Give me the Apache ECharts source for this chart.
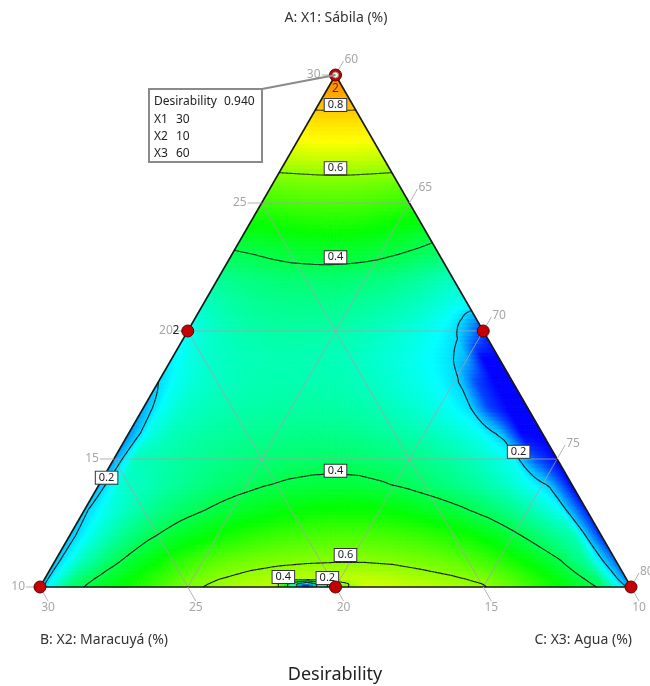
<!DOCTYPE html>
<html>
<head>
<meta charset="utf-8">
<script src="https://cdn.jsdelivr.net/npm/echarts@6/dist/echarts.min.js"></script>
<style>
  html, body { margin: 0; padding: 0; background: #fff; }
  #main { width: 650px; height: 686px; }
</style>
</head>
<body>
<div id="main"></div>
<script>
// Mixture space (%): X1 Sábila 10–30, X2 Maracuyá 10–30, X3 Agua 60–80, X1+X2+X3 = 100
const x1Ticks = [10, 15, 20, 25, 30];
const x2Ticks = [30, 25, 20, 15, 10];
const x3Ticks = [60, 65, 70, 75, 80];

// Design points and their replicate counts
const designX1 = [30, 20, 20, 10, 10, 10];
const designX2 = [10, 20, 10, 20, 30, 10];
const designX3 = [60, 60, 70, 70, 60, 80];
const designReps = [2, 2, 1, 1, 1, 1];

// Desirability surface: one row per X1 level, 21 evenly spaced samples across the row,
// from the X2-rich (left) edge to the X3-rich (right) edge
const surfaceX1 = [10, 10.12, 10.3, 11, 12, 13, 14, 15, 16, 17, 18, 19, 20, 21, 22, 23, 24, 25, 26, 27, 28, 29, 30];
const surfaceRows = [
  [0.18, 0.37, 0.432, 0.482, 0.533, 0.584, 0.615, 0.635, 0.64, 0.0, 0.55, 0.665, 0.655, 0.64, 0.625, 0.605, 0.562, 0.506, 0.45, 0.39, 0.17],
  [0.18, 0.365, 0.428, 0.478, 0.529, 0.58, 0.61, 0.63, 0.635, 0.0, 0.55, 0.66, 0.65, 0.635, 0.62, 0.6, 0.557, 0.503, 0.447, 0.382, 0.15],
  [0.18, 0.355, 0.42, 0.47, 0.52, 0.57, 0.6, 0.62, 0.635, 0.645, 0.65, 0.65, 0.64, 0.625, 0.61, 0.59, 0.548, 0.495, 0.44, 0.37, 0.13],
  [0.18, 0.30, 0.38, 0.44, 0.49, 0.53, 0.56, 0.578, 0.588, 0.594, 0.597, 0.597, 0.592, 0.58, 0.565, 0.54, 0.505, 0.46, 0.405, 0.32, 0.1],
  [0.18, 0.27, 0.34, 0.39, 0.43, 0.46, 0.49, 0.51, 0.525, 0.534, 0.538, 0.538, 0.533, 0.522, 0.505, 0.48, 0.445, 0.40, 0.35, 0.31, 0.04],
  [0.19, 0.26, 0.31, 0.35, 0.38, 0.405, 0.43, 0.448, 0.462, 0.472, 0.477, 0.477, 0.47, 0.455, 0.435, 0.41, 0.38, 0.345, 0.30, 0.24, 0.03],
  [0.17, 0.28, 0.30, 0.325, 0.345, 0.365, 0.38, 0.397, 0.408, 0.415, 0.418, 0.415, 0.405, 0.39, 0.37, 0.35, 0.325, 0.295, 0.255, 0.195, 0.0],
  [0.14, 0.30, 0.31, 0.325, 0.337, 0.347, 0.357, 0.365, 0.371, 0.375, 0.376, 0.373, 0.366, 0.355, 0.342, 0.325, 0.303, 0.275, 0.245, 0.08, 0.0],
  [0.13, 0.255, 0.295, 0.31, 0.322, 0.33, 0.336, 0.341, 0.344, 0.345, 0.344, 0.34, 0.332, 0.321, 0.308, 0.292, 0.271, 0.245, 0.184, 0.0, 0.0],
  [0.16, 0.245, 0.282, 0.296, 0.306, 0.313, 0.317, 0.32, 0.321, 0.321, 0.319, 0.314, 0.306, 0.294, 0.279, 0.262, 0.241, 0.205, 0.06, 0.0, 0.0],
  [0.2, 0.245, 0.272, 0.286, 0.296, 0.303, 0.307, 0.309, 0.309, 0.308, 0.305, 0.299, 0.29, 0.278, 0.264, 0.248, 0.229, 0.198, 0.06, 0.0, 0.0],
  [0.225, 0.258, 0.278, 0.289, 0.297, 0.302, 0.305, 0.306, 0.305, 0.303, 0.299, 0.293, 0.285, 0.274, 0.262, 0.248, 0.232, 0.211, 0.17, 0.0, 0.0],
  [0.245, 0.272, 0.29, 0.302, 0.311, 0.316, 0.319, 0.32, 0.319, 0.317, 0.313, 0.307, 0.299, 0.29, 0.279, 0.267, 0.253, 0.237, 0.214, 0.15, 0.04],
  [0.285, 0.302, 0.315, 0.324, 0.331, 0.336, 0.339, 0.341, 0.341, 0.34, 0.338, 0.334, 0.328, 0.321, 0.313, 0.304, 0.293, 0.28, 0.266, 0.252, 0.24],
  [0.33, 0.34, 0.347, 0.353, 0.358, 0.362, 0.365, 0.366, 0.367, 0.367, 0.366, 0.364, 0.361, 0.357, 0.352, 0.345, 0.336, 0.326, 0.315, 0.302, 0.29],
  [0.39, 0.395, 0.4, 0.405, 0.41, 0.414, 0.418, 0.42, 0.422, 0.423, 0.423, 0.422, 0.42, 0.417, 0.413, 0.407, 0.401, 0.394, 0.387, 0.379, 0.37],
  [0.456, 0.46, 0.464, 0.468, 0.471, 0.474, 0.477, 0.479, 0.48, 0.481, 0.481, 0.48, 0.479, 0.476, 0.472, 0.467, 0.462, 0.456, 0.45, 0.444, 0.437],
  [0.521, 0.523, 0.526, 0.528, 0.53, 0.532, 0.534, 0.535, 0.536, 0.537, 0.537, 0.537, 0.536, 0.534, 0.532, 0.529, 0.526, 0.523, 0.519, 0.515, 0.511],
  [0.585, 0.586, 0.587, 0.588, 0.589, 0.59, 0.591, 0.592, 0.593, 0.594, 0.594, 0.594, 0.593, 0.592, 0.591, 0.59, 0.589, 0.588, 0.587, 0.586, 0.585],
  [0.665, 0.667, 0.669, 0.67, 0.672, 0.673, 0.674, 0.674, 0.675, 0.675, 0.675, 0.675, 0.675, 0.674, 0.674, 0.673, 0.672, 0.67, 0.669, 0.667, 0.665],
  [0.74, 0.741, 0.742, 0.743, 0.743, 0.744, 0.744, 0.745, 0.745, 0.745, 0.745, 0.745, 0.745, 0.745, 0.744, 0.744, 0.743, 0.743, 0.742, 0.741, 0.74],
  [0.835, 0.835, 0.835, 0.835, 0.835, 0.835, 0.835, 0.835, 0.835, 0.835, 0.835, 0.835, 0.835, 0.835, 0.835, 0.835, 0.835, 0.835, 0.835, 0.835, 0.835],
  [0.94, 0.94, 0.94, 0.94, 0.94, 0.94, 0.94, 0.94, 0.94, 0.94, 0.94, 0.94, 0.94, 0.94, 0.94, 0.94, 0.94, 0.94, 0.94, 0.94, 0.94]
];
const contourLevels = [0.2, 0.4, 0.6, 0.8];

// ---------- layout / style ----------
const FONT = '"Noto Sans", "DejaVu Sans", sans-serif';
const colorStops = [0, 0.235, 0.47, 0.705, 1.18];
const colorRGB = [[0, 0, 255], [0, 255, 255], [0, 255, 0], [255, 255, 0], [255, 0, 0]];
// where each contour label box sits: [level, X1, position across the row]
const contourLabelSpots = [
  [0.8, 28.83, 0.5], [0.6, 26.36, 0.5], [0.4, 22.88, 0.5],
  [0.4, 14.54, 0.5], [0.6, 11.25, 0.518],
  [0.2, 15.28, 0.921], [0.2, 14.27, 0.0075],
  [0.4, 10.39, 0.41], [0.2, 10.35, 0.486]
];

// ternary -> plane: x in [0,1] along the base, y = share of the X1 range
function cart(X1, X2, X3) {
  const a = (X1 - 10) / 20, c = (X3 - 60) / 20;
  return [c + a / 2, a];
}
function cartRow(X1, u) {
  const a = (X1 - 10) / 20;
  return [a / 2 + u * (1 - a), a];
}
function colorOf(v) {
  if (v <= colorStops[0]) return 'rgb(' + colorRGB[0].join(',') + ')';
  for (let i = 1; i < colorStops.length; i++) {
    if (v <= colorStops[i]) {
      const t = (v - colorStops[i - 1]) / (colorStops[i] - colorStops[i - 1]);
      const a = colorRGB[i - 1], b = colorRGB[i];
      return 'rgb(' + [0, 1, 2].map(k => Math.round(a[k] + (b[k] - a[k]) * t)).join(',') + ')';
    }
  }
  return 'rgb(255,0,0)';
}
function lerp(a, b, t) { return a + (b - a) * t; }
function rowValue(row, u) {
  const t = u * (row.length - 1);
  let j = Math.floor(t);
  if (j >= row.length - 1) j = row.length - 2;
  const f = t - j;
  return row[j] * (1 - f) + row[j + 1] * f;
}

// fine rendering mesh built from the sampled rows
const NU = 160;
const fineX1 = [], fineV = [];
for (let i = 0; i < surfaceX1.length - 1; i++) {
  const x0 = surfaceX1[i], x1 = surfaceX1[i + 1];
  const ns = Math.max(1, Math.round((x1 - x0) * 6));
  for (let k = 0; k < ns; k++) {
    const t = k / ns;
    fineX1.push(lerp(x0, x1, t));
    const v = [];
    for (let m = 0; m <= NU; m++) {
      const u = m / NU;
      v.push(lerp(rowValue(surfaceRows[i], u), rowValue(surfaceRows[i + 1], u), t));
    }
    fineV.push(v);
  }
}
{
  const last = surfaceRows.length - 1;
  fineX1.push(surfaceX1[last]);
  const v = [];
  for (let m = 0; m <= NU; m++) v.push(rowValue(surfaceRows[last], m / NU));
  fineV.push(v);
}
function meshPoint(r, m) {
  const r0 = Math.min(Math.floor(r), fineX1.length - 2);
  const X1 = lerp(fineX1[r0], fineX1[r0 + 1], r - r0);
  return cartRow(X1, m / NU);
}

const cells = [];
for (let r = 0; r < fineV.length - 1; r++) {
  for (let m = 0; m < NU; m++) {
    const v = (fineV[r][m] + fineV[r][m + 1] + fineV[r + 1][m] + fineV[r + 1][m + 1]) / 4;
    const c = meshPoint(r + 0.5, m + 0.5);
    cells.push([c[0], c[1], r, m, v]);
  }
}

// contour segments by marching triangles over the mesh
const contourSegs = [];
contourLevels.forEach(level => {
  function tri(p, q, s) {
    const pts = [];
    [[p, q], [q, s], [s, p]].forEach(([P, Q]) => {
      const va = P[2] - level, vb = Q[2] - level;
      if ((va < 0) !== (vb < 0)) {
        const t = va / (va - vb);
        pts.push(meshPoint(P[0] + (Q[0] - P[0]) * t, P[1] + (Q[1] - P[1]) * t));
      }
    });
    if (pts.length === 2) contourSegs.push([pts[0][0], pts[0][1], pts[1][0], pts[1][1], level]);
  }
  for (let r = 0; r < fineV.length - 1; r++) {
    for (let m = 0; m < NU; m++) {
      const a = [r, m, fineV[r][m]], b = [r, m + 1, fineV[r][m + 1]];
      const c = [r + 1, m + 1, fineV[r + 1][m + 1]], d = [r + 1, m, fineV[r + 1][m]];
      tri(a, b, c); tri(a, c, d);
    }
  }
});

// triangle frame, grid lines and ticks
const frameLines = [];  // [x1, y1, x2, y2, kind] kind 0 = grid, 1 = edge
const vA = cart(30, 10, 60), vB = cart(10, 30, 60), vC = cart(10, 10, 80);
x1Ticks.slice(1, -1).forEach(t => { const p = cart(t, 40 - t, 60), q = cart(t, 10, 90 - t); frameLines.push([p[0], p[1], q[0], q[1], 0]); });
x2Ticks.slice(1, -1).forEach(t => { const p = cart(10, t, 90 - t), q = cart(40 - t, t, 60); frameLines.push([p[0], p[1], q[0], q[1], 0]); });
x3Ticks.slice(1, -1).forEach(t => { const p = cart(10, 90 - t, t), q = cart(90 - t, 10, t); frameLines.push([p[0], p[1], q[0], q[1], 0]); });
frameLines.push([vA[0], vA[1], vB[0], vB[1], 1], [vB[0], vB[1], vC[0], vC[1], 1], [vC[0], vC[1], vA[0], vA[1], 1]);

const tickItems = []; // [x, y, axis, value]
x1Ticks.forEach(t => { const p = cart(t, 40 - t, 60); tickItems.push([p[0], p[1], 0, t]); });
x2Ticks.forEach(t => { const p = cart(10, t, 90 - t); tickItems.push([p[0], p[1], 1, t]); });
x3Ticks.forEach(t => { const p = cart(90 - t, 10, t); tickItems.push([p[0], p[1], 2, t]); });

const labelItems = contourLabelSpots.map(s => { const p = cartRow(s[1], s[2]); return [p[0], p[1], s[0]]; });

const designData = designX1.map((x1, i) => {
  const p = cart(x1, designX2[i], designX3[i]);
  const onLeft = designX3[i] === 60 && x1 < 30 && x1 > 10;
  return {
    value: p,
    label: {
      show: designReps[i] > 1,
      position: onLeft ? 'left' : 'bottom',
      distance: onLeft ? 2 : 1,
      color: onLeft ? '#222' : '#8a1c00'
    }
  };
});

const chart = echarts.init(document.getElementById('main'));
chart.setOption({
  animation: false,
  textStyle: { fontFamily: FONT },
  grid: { left: 40, top: 75, width: 591, height: 512 },
  xAxis: { type: 'value', min: 0, max: 1, show: false },
  yAxis: { type: 'value', min: 0, max: 1, show: false },
  tooltip: { show: false },
  series: [
    {
      type: 'custom', name: 'surface', z: 1, silent: true,
      coordinateSystem: 'cartesian2d', encode: { x: 0, y: 1 },
      data: cells,
      renderItem(params, api) {
        const r = api.value(2), m = api.value(3);
        const pts = [[r, m], [r, m + 1], [r + 1, m + 1], [r + 1, m]].map(q => api.coord(meshPoint(q[0], q[1])));
        const col = colorOf(api.value(4));
        return { type: 'polygon', shape: { points: pts }, style: { fill: col, stroke: col, lineWidth: 0.8 } };
      }
    },
    {
      type: 'custom', name: 'frame', z: 2, silent: true,
      coordinateSystem: 'cartesian2d', encode: { x: 0, y: 1 },
      data: frameLines,
      renderItem(params, api) {
        const p = api.coord([api.value(0), api.value(1)]);
        const q = api.coord([api.value(2), api.value(3)]);
        const edge = api.value(4) === 1;
        return {
          type: 'line', z2: edge ? 10 : 1,
          shape: { x1: p[0], y1: p[1], x2: q[0], y2: q[1] },
          style: edge ? { stroke: '#1a1a1a', lineWidth: 1.6 } : { stroke: 'rgba(165,160,170,0.8)', lineWidth: 1 }
        };
      }
    },
    {
      type: 'custom', name: 'contours', z: 3, silent: true,
      coordinateSystem: 'cartesian2d', encode: { x: 0, y: 1 },
      data: contourSegs,
      renderItem(params, api) {
        const p = api.coord([api.value(0), api.value(1)]);
        const q = api.coord([api.value(2), api.value(3)]);
        return { type: 'line', shape: { x1: p[0], y1: p[1], x2: q[0], y2: q[1] }, style: { stroke: '#141414', lineWidth: 1.1 } };
      }
    },
    {
      type: 'custom', name: 'ticks', z: 4, silent: true,
      coordinateSystem: 'cartesian2d', encode: { x: 0, y: 1 },
      data: tickItems,
      renderItem(params, api) {
        const p = api.coord([api.value(0), api.value(1)]);
        const axis = api.value(2), val = String(api.value(3));
        let end, txt;
        if (axis === 0) {
          end = [p[0] - 14, p[1]];
          txt = { x: end[0] - 1, y: p[1], align: 'right', verticalAlign: 'middle' };
        } else if (axis === 1) {
          end = [p[0] + 8, p[1] + 14];
          txt = { x: end[0], y: end[1] + 1, align: 'center', verticalAlign: 'top' };
        } else {
          end = [p[0] + 8, p[1] - 14];
          txt = { x: end[0] + 1, y: end[1] - 1, align: 'left', verticalAlign: 'middle' };
        }
        return {
          type: 'group',
          children: [
            { type: 'line', shape: { x1: p[0], y1: p[1], x2: end[0], y2: end[1] }, style: { stroke: '#b4b4b4', lineWidth: 1 } },
            { type: 'text', style: Object.assign({ text: val, fill: '#a6a6a6', font: '12px ' + FONT }, txt) }
          ]
        };
      }
    },
    {
      type: 'custom', name: 'contourLabels', z: 5, silent: true,
      coordinateSystem: 'cartesian2d', encode: { x: 0, y: 1 },
      data: labelItems,
      renderItem(params, api) {
        const p = api.coord([api.value(0), api.value(1)]);
        return {
          type: 'text', x: p[0], y: p[1],
          style: {
            text: api.value(2).toFixed(1), fill: '#222', font: '11px ' + FONT,
            align: 'center', verticalAlign: 'middle',
            backgroundColor: '#fff', borderColor: '#333', borderWidth: 1, padding: [1, 3, 0, 3]
          }
        };
      }
    },
    {
      type: 'scatter', name: 'design', z: 6, silent: true,
      symbol: 'circle', symbolSize: 12,
      itemStyle: { color: '#c40000', borderColor: '#5c0000', borderWidth: 1, opacity: 1 },
      label: { formatter: p => String(designReps[p.dataIndex]), fontSize: 12, fontFamily: FONT },
      data: designData
    },
    {
      type: 'scatter', name: 'selected', z: 7, silent: true,
      symbol: 'circle', symbolSize: 6,
      itemStyle: { color: '#f2f2f2', borderColor: '#8c8c8c', borderWidth: 1, opacity: 1 },
      data: [cart(designX1[0], designX2[0], designX3[0])]
    }
  ]
});

// axis titles, chart title and the point readout box
const apexPx = chart.convertToPixel({ gridIndex: 0 }, cart(designX1[0], designX2[0], designX3[0]));
const apexValue = surfaceRows[surfaceRows.length - 1][0];
const box = { x: 149, y: 89, w: 113, h: 73 };
const txt = (text, x, y, extra) => ({
  type: 'text', x, y, z: 20,
  style: Object.assign({ text, fill: '#222', font: '12px ' + FONT, align: 'left', verticalAlign: 'middle' }, extra || {})
});
chart.setOption({
  graphic: [
    txt('A: X1: Sábila (%)', 336, 18, { align: 'center', font: '14px ' + FONT, fill: '#333' }),
    txt('B: X2: Maracuyá (%)', 40, 640, { font: '14px ' + FONT, fill: '#333' }),
    txt('C: X3: Agua (%)', 632, 640, { align: 'right', font: '14px ' + FONT, fill: '#333' }),
    txt('Desirability', 335, 675, { align: 'center', font: '18px ' + FONT, fill: '#222' }),
    { type: 'line', z: 19, shape: { x1: box.x + box.w, y1: box.y, x2: apexPx[0], y2: apexPx[1] }, style: { stroke: '#8a8a8a', lineWidth: 2 } },
    { type: 'rect', z: 19, shape: { x: box.x, y: box.y, width: box.w, height: box.h }, style: { fill: '#fff', stroke: '#8a8a8a', lineWidth: 2 } },
    txt('Desirability', 154, 102),
    txt(apexValue.toFixed(3), 224, 102),
    txt('X1', 154, 120), txt(String(designX1[0]), 176, 120),
    txt('X2', 154, 137), txt(String(designX2[0]), 176, 137),
    txt('X3', 154, 154), txt(String(designX3[0]), 176, 154)
  ]
});
</script>
</body>
</html>
